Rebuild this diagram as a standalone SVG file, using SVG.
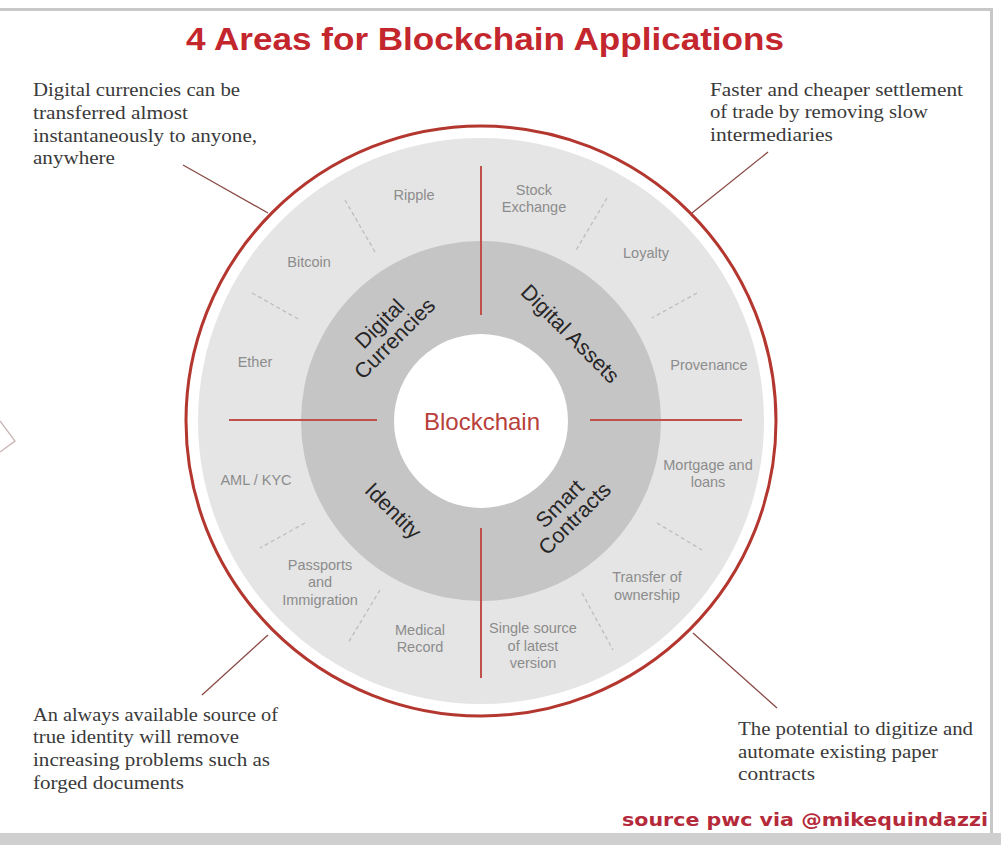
<svg xmlns="http://www.w3.org/2000/svg" width="1001" height="845" viewBox="0 0 1001 845">
<style>
.note{font-family:"Liberation Serif",serif;font-size:19px;fill:#3a3a3a}
.item{font-family:"Liberation Sans",Arial,sans-serif;font-size:14.5px;fill:#8c8c8c;text-anchor:middle}
.ring{font-family:"Liberation Sans",Arial,sans-serif;font-size:21.5px;fill:#262626;text-anchor:middle}
.div{stroke:#c0504a;stroke-width:2;fill:none}
.dash{stroke:#bdbdbd;stroke-width:1.3;stroke-dasharray:4 3;fill:none}
.lead{stroke:#8a4a44;stroke-width:1.3;fill:none}
</style>
<rect x="0" y="0" width="1001" height="845" fill="#ffffff"/>
<g id="frame">
<line x1="0" y1="9.5" x2="993" y2="9.5" stroke="#c8c8c8" stroke-width="3"/>
<line x1="991.5" y1="9" x2="991.5" y2="834" stroke="#c8c8c8" stroke-width="3"/>
<rect x="0" y="833" width="1001" height="12" fill="#cfcfcf"/>
<polyline points="0,421 15,441 0,452" fill="none" stroke="#c9b3b3" stroke-width="1.3"/>
</g>
<text id="title" x="485" y="50" font-family="Liberation Sans,Arial,sans-serif" font-weight="bold" font-size="32" fill="#c4262e" text-anchor="middle" textLength="598" lengthAdjust="spacingAndGlyphs">4 Areas for Blockchain Applications</text>
<g id="wheel">
<circle cx="481" cy="421" r="295" fill="#ffffff" stroke="#b3372f" stroke-width="3"/>
<circle cx="481" cy="421" r="283" fill="#e5e5e5"/>
<circle cx="481" cy="421" r="180" fill="#c6c5c6"/>
<circle cx="481" cy="421" r="87" fill="#ffffff"/>
</g>
<g id="connectors">
<line class="div" x1="481" y1="166" x2="481" y2="315"/>
<line class="div" x1="481" y1="528" x2="481" y2="678"/>
<line class="div" x1="229" y1="420" x2="377" y2="420"/>
<line class="div" x1="590" y1="420" x2="742" y2="420"/>
<line class="dash" x1="345" y1="200" x2="375" y2="252"/>
<line class="dash" x1="252" y1="293" x2="300" y2="320"/>
<line class="dash" x1="607" y1="198" x2="575" y2="252"/>
<line class="dash" x1="697" y1="293" x2="652" y2="318"/>
<line class="dash" x1="305" y1="523" x2="260" y2="548"/>
<line class="dash" x1="380" y1="590" x2="348" y2="643"/>
<line class="dash" x1="657" y1="523" x2="702" y2="550"/>
<line class="dash" x1="582" y1="593" x2="613" y2="650"/>
<line class="lead" x1="183" y1="165" x2="268" y2="213"/>
<line class="lead" x1="768" y1="152" x2="692" y2="213"/>
<line class="lead" x1="268" y1="635" x2="202" y2="695"/>
<line class="lead" x1="693" y1="633" x2="777" y2="708"/>
</g>
<g id="center">
<text x="482" y="430" font-family="Liberation Sans,Arial,sans-serif" font-size="24" fill="#b8403a" text-anchor="middle">Blockchain</text>
</g>
<g id="digital-currencies">
<g transform="translate(387,331) rotate(-45)">
<text class="ring" x="0" y="-3">Digital</text>
<text class="ring" x="0" y="18">Currencies</text>
</g>
<text class="item" x="414" y="200">Ripple</text>
<text class="item" x="309" y="267">Bitcoin</text>
<text class="item" x="255" y="367">Ether</text>
</g>
<g id="digital-assets">
<text class="ring" transform="translate(570,334) rotate(45)" x="0" y="7">Digital Assets</text>
<text class="item" x="534" y="195">Stock</text>
<text class="item" x="534" y="212">Exchange</text>
<text class="item" x="646" y="258">Loyalty</text>
<text class="item" x="709" y="370">Provenance</text>
</g>
<g id="smart-contracts">
<g transform="translate(567,511) rotate(-45)">
<text class="ring" x="0" y="-3">Smart</text>
<text class="ring" x="0" y="18">Contracts</text>
</g>
<text class="item" x="708" y="470">Mortgage and</text>
<text class="item" x="708" y="487">loans</text>
<text class="item" x="647" y="582">Transfer of</text>
<text class="item" x="647" y="600">ownership</text>
<text class="item" x="533" y="633">Single source</text>
<text class="item" x="533" y="651">of latest</text>
<text class="item" x="533" y="668">version</text>
</g>
<g id="identity">
<text class="ring" transform="translate(393,511) rotate(45)" x="0" y="7">Identity</text>
<text class="item" x="256" y="485">AML / KYC</text>
<text class="item" x="320" y="570">Passports</text>
<text class="item" x="320" y="587">and</text>
<text class="item" x="320" y="605">Immigration</text>
<text class="item" x="420" y="635">Medical</text>
<text class="item" x="420" y="652">Record</text>
</g>
<g id="note-top-left">
<text class="note" x="33" y="96" textLength="207" lengthAdjust="spacingAndGlyphs">Digital currencies can be</text>
<text class="note" x="33" y="119" textLength="155" lengthAdjust="spacingAndGlyphs">transferred almost</text>
<text class="note" x="33" y="142" textLength="224" lengthAdjust="spacingAndGlyphs">instantaneously to anyone,</text>
<text class="note" x="33" y="164" textLength="82" lengthAdjust="spacingAndGlyphs">anywhere</text>
</g>
<g id="note-top-right">
<text class="note" x="710" y="96" textLength="253" lengthAdjust="spacingAndGlyphs">Faster and cheaper settlement</text>
<text class="note" x="710" y="118" textLength="218" lengthAdjust="spacingAndGlyphs">of trade by removing slow</text>
<text class="note" x="710" y="141" textLength="123" lengthAdjust="spacingAndGlyphs">intermediaries</text>
</g>
<g id="note-bottom-left">
<text class="note" x="33" y="721" textLength="245" lengthAdjust="spacingAndGlyphs">An always available source of</text>
<text class="note" x="33" y="743" textLength="206" lengthAdjust="spacingAndGlyphs">true identity will remove</text>
<text class="note" x="33" y="766" textLength="237" lengthAdjust="spacingAndGlyphs">increasing problems such as</text>
<text class="note" x="33" y="789" textLength="151" lengthAdjust="spacingAndGlyphs">forged documents</text>
</g>
<g id="note-bottom-right">
<text class="note" x="738" y="735" textLength="235" lengthAdjust="spacingAndGlyphs">The potential to digitize and</text>
<text class="note" x="738" y="758" textLength="200" lengthAdjust="spacingAndGlyphs">automate existing paper</text>
<text class="note" x="738" y="780" textLength="77" lengthAdjust="spacingAndGlyphs">contracts</text>
</g>
<text id="source" x="988" y="826" font-family="DejaVu Sans,Verdana,sans-serif" font-weight="bold" font-size="17.5" fill="#b52a3a" text-anchor="end" textLength="366" lengthAdjust="spacingAndGlyphs">source pwc via @mikequindazzi</text>
</svg>
